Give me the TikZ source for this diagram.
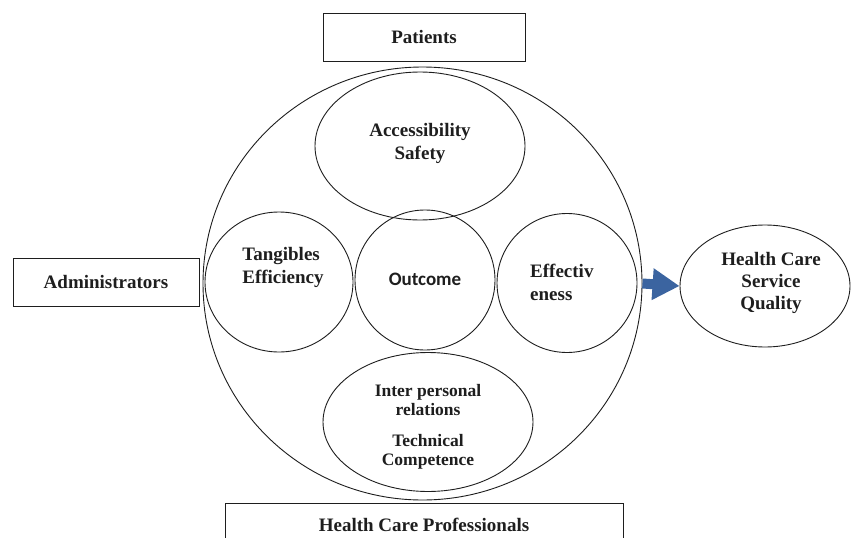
\documentclass[tikz,border=0pt]{standalone}
\usepackage{fontspec}
\setmainfont{Liberation Serif}
\newfontfamily\carlito{Carlito}
\usetikzlibrary{shapes.geometric,arrows.meta}
\definecolor{arrowblue}{HTML}{3B64A0}
\definecolor{ink}{HTML}{1E1E1E}
\begin{document}
\begin{tikzpicture}[x=1pt,y=-1pt,
  shp/.style={draw=ink, line width=0.9pt, ellipse, inner sep=0pt},
  box/.style={draw=ink, line width=0.9pt, rectangle, inner sep=0pt,
    font=\fontsize{19}{23}\selectfont\bfseries, text=ink},
  txt/.style={font=\fontsize{19}{23}\selectfont\bfseries, text=ink, align=center, inner sep=0pt}]
\useasboundingbox (0,0) rectangle (854,538);
\fill[white] (0,0) rectangle (854,538);
% boxes
\node[box, minimum width=202pt, minimum height=48pt] (patbox) at (424,37) {Patients};
\node[box, minimum width=186pt, minimum height=48pt] (admbox) at (106,282) {Administrators};
\node[box, minimum width=398pt, minimum height=44pt] (hcpbox) at (424,525) {Health Care Professionals};
% ellipses
\node[shp, minimum width=439pt, minimum height=433pt] (big) at (422.5,283.5) {};
\node[shp, minimum width=210pt, minimum height=148pt] (acc) at (420,146) {};
\node[shp, minimum width=148pt, minimum height=140pt] (tan) at (279,282) {};
\node[shp, minimum width=140pt, minimum height=140pt] (out) at (425,280) {};
\node[shp, minimum width=140pt, minimum height=139pt] (eff) at (567,283) {};
\node[shp, minimum width=210pt, minimum height=139pt] (inter) at (428,422) {};
\node[shp, minimum width=170pt, minimum height=122pt] (hcsq) at (765,286) {};
% texts
\node[txt] (acctxt) at (420,143) {Accessibility\\Safety};
\node[txt, align=left] (tantxt) at (283,267) {Tangibles\\Efficiency};
\node[txt, font=\carlito\fontsize{19}{23}\selectfont\bfseries] (outtxt) at (425,279) {Outcome};
\node[txt, align=left, anchor=west] (efftxt) at (530,282) {Effectiv\\eness};
\node[txt, font=\fontsize{17.5}{19}\selectfont\bfseries] (inttxt) at (428,426.5) {Inter personal\\relations\\[12pt]Technical\\Competence};
\node[txt, font=\fontsize{19}{22}\selectfont\bfseries] (hcsqtxt) at (771,283) {Health Care\\Service\\Quality};
% arrow
\draw[-{Triangle[length=27pt,width=30pt]}, line width=10pt, draw=arrowblue] (big.east) -- (hcsq.west);
\end{tikzpicture}
\end{document}
